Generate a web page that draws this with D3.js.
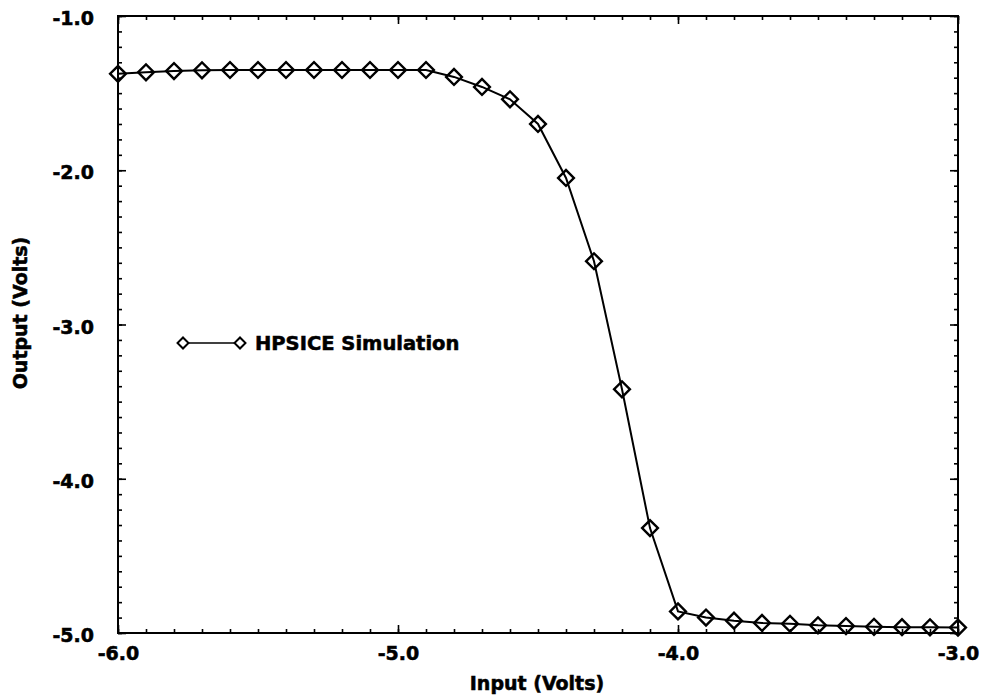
<!DOCTYPE html>
<html>
<head>
<meta charset="utf-8">
<script src="https://cdn.jsdelivr.net/npm/d3@7"></script>
<style>
  html, body { margin: 0; padding: 0; background: #fff; }
  svg { display: block; }
  text { font-family: "DejaVu Sans", sans-serif; font-weight: bold; fill: #000; stroke: #000; stroke-width: 0.55px; }
</style>
</head>
<body>
<svg id="chart" width="985" height="698"></svg>
<script>
// ---- data ----
const inputVolts = [-6.0, -5.9, -5.8, -5.7, -5.6, -5.5, -5.4, -5.3, -5.2, -5.1,
                    -5.0, -4.9, -4.8, -4.7, -4.6, -4.5, -4.4, -4.3, -4.2, -4.1,
                    -4.0, -3.9, -3.8, -3.7, -3.6, -3.5, -3.4, -3.3, -3.2, -3.1, -3.0];
const outputVolts = [-1.375, -1.365, -1.357, -1.352, -1.35, -1.35, -1.35, -1.35, -1.35, -1.35,
                     -1.35, -1.35, -1.395, -1.46, -1.54, -1.70, -2.05, -2.59, -3.42, -4.32,
                     -4.86, -4.90, -4.92, -4.935, -4.94, -4.95, -4.955, -4.96, -4.962, -4.963, -4.965];
const seriesName = "HPSICE Simulation";
const xMajorTicks = [-6, -5, -4, -3];
const xTickLabels = ["-6.0", "-5.0", "-4.0", "-3.0"];
const yMajorTicks = [-1, -2, -3, -4, -5];
const yTickLabels = ["-1.0", "-2.0", "-3.0", "-4.0", "-5.0"];
const xTitle = "Input (Volts)";
const yTitle = "Output (Volts)";

// ---- layout ----
const L = 118, R = 958, T = 16, B = 633;
const svg = d3.select("#chart");

const x = d3.scaleLinear().domain([-6, -3]).range([L, R]);
const y = d3.scaleLinear().domain([-5, -1]).range([B, T]);

const xMinor = d3.range(-60, -29).map(d => d / 10);
const yMinor = d3.range(-50, -9).map(d => d / 10);

function styleAxis(g) {
  g.select(".domain").remove();
  g.selectAll(".tick line").attr("stroke", "#000").attr("stroke-width", 1.6);
}
function styleLabels(g) {
  g.selectAll(".tick text").attr("font-size", 19).attr("font-family", "DejaVu Sans")
    .attr("font-weight", "bold").attr("fill", "#000");
}

// minor ticks (inward)
svg.append("g").attr("transform", `translate(0,${B})`)
  .call(d3.axisBottom(x).tickValues(xMinor).tickSize(-4).tickFormat(""))
  .call(styleAxis);
svg.append("g").attr("transform", `translate(0,${T})`)
  .call(d3.axisTop(x).tickValues(xMinor).tickSize(-4).tickFormat(""))
  .call(styleAxis);
svg.append("g").attr("transform", `translate(${L},0)`)
  .call(d3.axisLeft(y).tickValues(yMinor).tickSize(-4).tickFormat(""))
  .call(styleAxis);
svg.append("g").attr("transform", `translate(${R},0)`)
  .call(d3.axisRight(y).tickValues(yMinor).tickSize(-4).tickFormat(""))
  .call(styleAxis);

// major ticks with labels
svg.append("g").attr("transform", `translate(0,${B})`)
  .call(d3.axisBottom(x).tickValues(xMajorTicks).tickSize(-8).tickPadding(22)
        .tickFormat((d, i) => xTickLabels[i]))
  .call(styleAxis).call(styleLabels)
  .selectAll(".tick text").attr("dy", "0.25em");

svg.append("g").attr("transform", `translate(0,${T})`)
  .call(d3.axisTop(x).tickValues(xMajorTicks).tickSize(-8).tickFormat(""))
  .call(styleAxis);

svg.append("g").attr("transform", `translate(${L},0)`)
  .call(d3.axisLeft(y).tickValues(yMajorTicks).tickSize(-8).tickPadding(24)
        .tickFormat((d, i) => yTickLabels[i]))
  .call(styleAxis).call(styleLabels)
  .selectAll(".tick text").attr("dy", "0.45em");

svg.append("g").attr("transform", `translate(${R},0)`)
  .call(d3.axisRight(y).tickValues(yMajorTicks).tickSize(-8).tickFormat(""))
  .call(styleAxis);

// frame
svg.append("rect").attr("x", L).attr("y", T).attr("width", R - L).attr("height", B - T)
  .attr("fill", "none").attr("stroke", "#000").attr("stroke-width", 2);

// data line
const pts = inputVolts.map((v, i) => [v, outputVolts[i]]);
svg.append("path").datum(pts)
  .attr("fill", "none").attr("stroke", "#000").attr("stroke-width", 2)
  .attr("d", d3.line().x(d => x(d[0])).y(d => y(d[1])));

const diamond = d3.symbol().type(d3.symbolSquare).size(125);
svg.append("g").selectAll("path").data(pts).join("path")
  .attr("d", diamond)
  .attr("transform", d => `translate(${x(d[0])},${y(d[1])}) rotate(45)`)
  .attr("fill", "none").attr("stroke", "#000").attr("stroke-width", 2.4);

// legend
const lg = svg.append("g");
lg.append("line").attr("x1", 183).attr("x2", 240).attr("y1", 343).attr("y2", 343)
  .attr("stroke", "#000").attr("stroke-width", 1.6);
lg.selectAll("path").data([183, 240]).join("path")
  .attr("d", d3.symbol().type(d3.symbolSquare).size(60))
  .attr("transform", d => `translate(${d},343) rotate(45)`)
  .attr("fill", "#fff").attr("stroke", "#000").attr("stroke-width", 2);
lg.append("text").attr("x", 255).attr("y", 350).attr("font-size", 19.5).text(seriesName);

// axis titles
svg.append("text").attr("x", (L + R) / 2 - 1).attr("y", 690)
  .attr("text-anchor", "middle").attr("font-size", 19).text(xTitle);
svg.append("text").attr("transform", "translate(27,313) rotate(-90)")
  .attr("text-anchor", "middle").attr("font-size", 19).text(yTitle);
</script>
</body>
</html>
